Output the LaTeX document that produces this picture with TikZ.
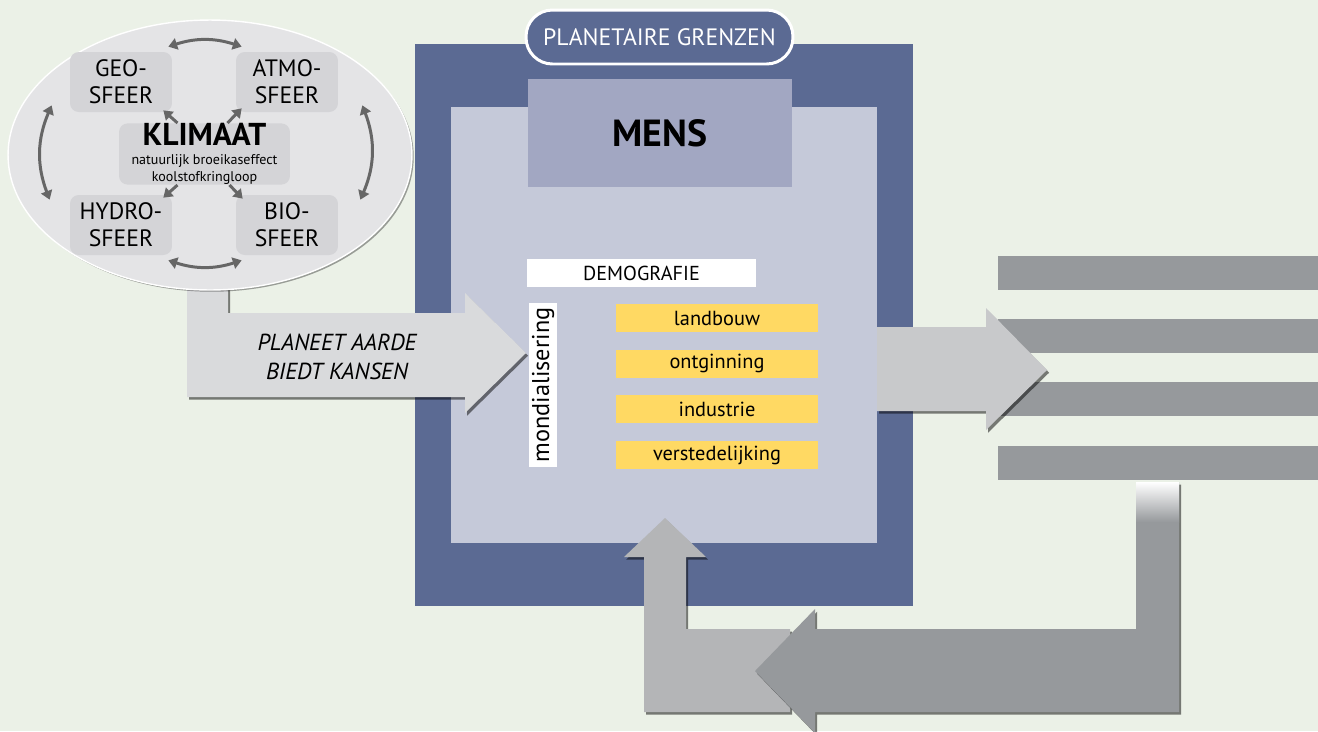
\documentclass[tikz,border=0pt]{standalone}
\usepackage{fontspec}
\setmainfont{PT Sans}
\usetikzlibrary{shapes,arrows.meta,positioning,shadows,calc}

\definecolor{achtergrond}{HTML}{EBF1E7}
\definecolor{grensblauw}{HTML}{5B6A93}
\definecolor{binnenblauw}{HTML}{C5C9D9}
\definecolor{mensblauw}{HTML}{A2A7C2}
\definecolor{bolgrijs}{HTML}{E4E4E6}
\definecolor{sfeergrijs}{HTML}{D4D4D7}
\definecolor{geel}{HTML}{FFD963}
\definecolor{staafgrijs}{HTML}{96999C}
\definecolor{pijllicht}{HTML}{D9DADC}
\definecolor{pijlmidden}{HTML}{C8C9CB}
\definecolor{pijlterug}{HTML}{B4B5B7}
\definecolor{kringgrijs}{HTML}{666666}

\tikzset{
    sfeerbox/.style={fill=sfeergrijs, rounded corners=5pt, minimum width=2.04cm, minimum height=1.2cm,
        inner sep=0pt, align=center, font=\fontsize{13.5}{15.5}\selectfont},
    sector/.style={fill=geel, minimum width=4.04cm, minimum height=0.56cm, inner sep=0pt,
        font=\fontsize{11.6}{13}\selectfont},
    balk/.style={fill=staafgrijs, minimum width=6.4cm, minimum height=0.68cm, inner sep=0pt},
    kring/.style={kringgrijs, line width=1.7pt, {Triangle[length=5pt,width=6.5pt]}-{Triangle[length=5pt,width=6.5pt]}},
    straal/.style={kringgrijs, line width=1.7pt, -{Triangle[length=5pt,width=6.5pt]}},
    schaduw/.style={drop shadow={shadow xshift=1.2pt, shadow yshift=-1.5pt, opacity=.5, fill=black}},
}

\begin{document}
\begin{tikzpicture}[x=0.02cm, y=-0.02cm]
    \path[use as bounding box, fill=achtergrond] (0,0) rectangle (1318,731);

    \node[fill=grensblauw, minimum width=9.96cm, minimum height=11.24cm, inner sep=0pt] (grens) at (664,325) {};
    \node[fill=binnenblauw, minimum width=8.52cm, minimum height=8.72cm, inner sep=0pt] (binnen) at (664,325) {};
    \node[fill=mensblauw, minimum width=5.28cm, minimum height=2.16cm, inner sep=0pt,
        font=\bfseries\fontsize{21.5}{23}\selectfont] (mens) at (660,133) {MENS};
    \node[fill=grensblauw, draw=white, line width=1.7pt, rounded corners=15pt, minimum width=5.34cm,
        minimum height=1.08cm, inner sep=0pt, text=white, font=\fontsize{13.5}{15}\selectfont] (grenzen) at (659.5,37) {PLANETAIRE GRENZEN};

    \node[balk] (balka) at (1158,272.5) {};
    \node[balk] (balkb) at (1158,336) {};
    \node[balk] (balkc) at (1158,399) {};
    \node[balk] (balkd) at (1158,463) {};

    \fill[pijlmidden, schaduw] (877,327) -- (986,327) -- (986,308) -- (1047,370) -- (986,430) -- (986,411) -- (877,411) -- cycle;

    \fill[pijlterug, schaduw] (644,712) -- (644,557) -- (624,557) -- (665,518) -- (706,557) -- (686,557)
        -- (686,629) -- (790,629) -- (790,712) -- cycle;
    \fill[staafgrijs, schaduw] (1136,482) -- (1179,482) -- (1179,712) -- (815,712) -- (815,733) -- (755,671)
        -- (815,609) -- (815,629) -- (1136,629) -- cycle;
    \shade[top color=white, bottom color=staafgrijs] (1136,482) rectangle (1179,522);

    \fill[pijllicht, schaduw] (187,280) -- (228,280) -- (228,313) -- (465,313) -- (465,293) -- (526,353)
        -- (465,413) -- (465,397) -- (187,397) -- cycle;
    \node[font=\itshape\fontsize{13.2}{16.5}\selectfont, align=center] (kansen) at (337,357) {PLANEET AARDE\\BIEDT KANSEN};

    \node[ellipse, fill=bolgrijs, draw=white, line width=0.8pt, minimum width=8.08cm, minimum height=5.4cm,
        drop shadow={shadow xshift=1pt, shadow yshift=-1pt, opacity=.35, fill=black}] (aarde) at (210,155) {};
    \node[sfeerbox] (geo) at (121,82) {GEO-\\SFEER};
    \node[sfeerbox] (atmo) at (287,82) {ATMO-\\SFEER};
    \node[sfeerbox] (hydro) at (121,225) {HYDRO-\\SFEER};
    \node[sfeerbox] (bio) at (287,225) {BIO-\\SFEER};
    \node[fill=sfeergrijs, rounded corners=5pt, minimum width=3.42cm, minimum height=1.22cm, inner sep=0pt,
        align=center, font=\fontsize{8}{9.5}\selectfont] (klimaat) at (204.5,154)
        {{\bfseries\fontsize{18}{17}\selectfont KLIMAAT}\\[1.5pt]
         natuurlijk broeikaseffect\\
         koolstofkringloop};

    \draw[kring] ($(geo.north east)+(-4,-5)$) to[bend left=18] ($(atmo.north west)+(6,-5)$);
    \draw[kring] ($(hydro.south east)+(-4,5)$) to[bend right=18] ($(bio.south west)+(6,5)$);
    \draw[kring] ($(geo.south west)+(-18,-7)$) to[bend right=22] ($(hydro.north west)+(-20,5)$);
    \draw[kring] ($(atmo.south east)+(24,-7)$) to[bend left=22] ($(bio.north east)+(22,5)$);
    \draw[straal] ($(klimaat.north)+(-27,0)$) -- ($(geo.south east)+(-9,-2)$);
    \draw[straal] ($(klimaat.north)+(23,0)$) -- ($(atmo.south west)+(6,-4)$);
    \draw[straal] ($(klimaat.south)+(-27,0)$) -- ($(hydro.north east)+(-9,3)$);
    \draw[straal] ($(klimaat.south)+(25,0)$) -- ($(bio.north west)+(7,4)$);

    \node[fill=white, minimum width=4.58cm, minimum height=0.56cm, inner sep=0pt,
        font=\fontsize{11.5}{12}\selectfont] (demografie) at (641.5,273) {DEMOGRAFIE};
    \node[fill=white, rotate=90, minimum width=3.28cm, minimum height=0.56cm, inner sep=0pt,
        font=\fontsize{13.8}{14}\selectfont] (mondialisering) at (543,385) {mondialisering};

    \node[sector] (landbouw) at (717,318) {landbouw};
    \node[sector, below=0.34cm of landbouw] (ontginning) {ontginning};
    \node[sector, below=0.34cm of ontginning] (industrie) {industrie};
    \node[sector, below=0.34cm of industrie] (verstedelijking) {verstedelijking};
\end{tikzpicture}
\end{document}
